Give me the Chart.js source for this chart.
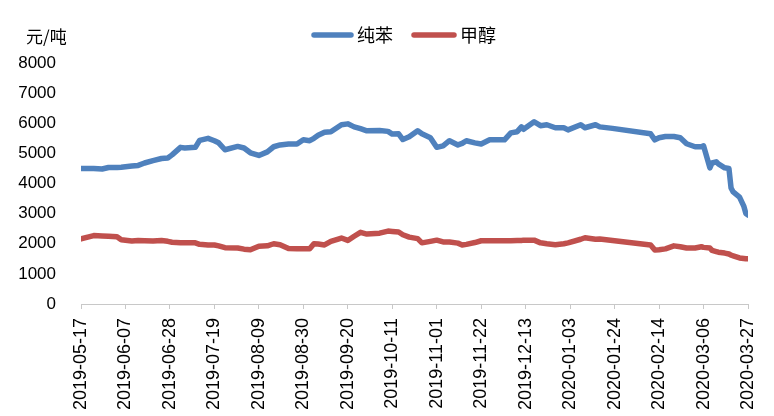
<!DOCTYPE html>
<html>
<head>
<meta charset="utf-8">
<script src="https://cdn.jsdelivr.net/npm/chart.js@4/dist/chart.umd.min.js"></script>
<style>
  html, body { margin: 0; padding: 0; background: #fff; }
  #wrap { width: 774px; height: 416px; position: relative; }
</style>
</head>
<body>
<div id="wrap"><canvas id="priceChart"></canvas></div>
<script>
// chart data
const startDate = '2019-05-17';
const dates = [
    '2019-05-17', '2019-05-23', '2019-05-27', '2019-05-30', '2019-06-03', '2019-06-05',
    '2019-06-10', '2019-06-13', '2019-06-16', '2019-06-20', '2019-06-24', '2019-06-27',
    '2019-06-29', '2019-07-03', '2019-07-05', '2019-07-10', '2019-07-12', '2019-07-16',
    '2019-07-19', '2019-07-21', '2019-07-24', '2019-07-30', '2019-08-02', '2019-08-05',
    '2019-08-09', '2019-08-13', '2019-08-16', '2019-08-19', '2019-08-23', '2019-08-27',
    '2019-08-30', '2019-09-02', '2019-09-04', '2019-09-06', '2019-09-09', '2019-09-12',
    '2019-09-17', '2019-09-20', '2019-09-23', '2019-09-26', '2019-09-29', '2019-10-05',
    '2019-10-09', '2019-10-11', '2019-10-14', '2019-10-16', '2019-10-19', '2019-10-23',
    '2019-10-25', '2019-10-29', '2019-11-01', '2019-11-04', '2019-11-07', '2019-11-11',
    '2019-11-13', '2019-11-15', '2019-11-19', '2019-11-22', '2019-11-26', '2019-12-03',
    '2019-12-06', '2019-12-09', '2019-12-11', '2019-12-12', '2019-12-17', '2019-12-20',
    '2019-12-23', '2019-12-27', '2019-12-31', '2020-01-02', '2020-01-08', '2020-01-10',
    '2020-01-15', '2020-01-17', '2020-01-23', '2020-02-10', '2020-02-12', '2020-02-14',
    '2020-02-17', '2020-02-21', '2020-02-24', '2020-02-27', '2020-03-02', '2020-03-05',
    '2020-03-06', '2020-03-09', '2020-03-10', '2020-03-12', '2020-03-13', '2020-03-16',
    '2020-03-18', '2020-03-19', '2020-03-20', '2020-03-23', '2020-03-25', '2020-03-26',
    '2020-03-27'
];
const benzene = [
    4500, 4500, 4480, 4530, 4530, 4540,
    4580, 4600, 4680, 4760, 4830, 4850,
    4950, 5200, 5180, 5200, 5430, 5500,
    5420, 5350, 5120, 5230, 5180, 5020,
    4930, 5050, 5220, 5280, 5310, 5310,
    5450, 5420, 5500, 5600, 5700, 5720,
    5950, 5980, 5880, 5820, 5750, 5760,
    5730, 5640, 5650, 5460, 5550, 5750,
    5650, 5520, 5200, 5250, 5420, 5280,
    5330, 5420, 5350, 5310, 5450, 5450,
    5680, 5720, 5880, 5800, 6050, 5920,
    5950, 5850, 5850, 5780, 5950, 5850,
    5950, 5880, 5830, 5650, 5450, 5520,
    5560, 5560, 5520, 5320, 5220, 5220,
    5250, 4520, 4680, 4720, 4650, 4520,
    4500, 3850, 3720, 3550, 3250, 3000,
    2950
];
const methanol = [
    2160, 2270, 2260, 2250, 2230, 2130,
    2090, 2110, 2100, 2090, 2110, 2080,
    2050, 2030, 2030, 2030, 1980, 1960,
    1960, 1930, 1870, 1860, 1820, 1800,
    1920, 1930, 2000, 1970, 1840, 1830,
    1830, 1830, 2000, 1990, 1960, 2080,
    2190, 2110, 2250, 2380, 2320, 2350,
    2420, 2410, 2390, 2300, 2220, 2170,
    2030, 2080, 2120, 2060, 2060, 2020,
    1960, 1980, 2040, 2100, 2100, 2100,
    2100, 2110, 2110, 2120, 2120, 2030,
    2000, 1970, 2000, 2030, 2150, 2200,
    2150, 2160, 2110, 1960, 1790, 1800,
    1830, 1930, 1900, 1860, 1860, 1900,
    1880, 1860, 1780, 1740, 1720, 1690,
    1660, 1620, 1600, 1530, 1510, 1500,
    1500
];
const tickLabels = [
    '2019-05-17', '2019-06-07', '2019-06-28', '2019-07-19', '2019-08-09', '2019-08-30',
    '2019-09-20', '2019-10-11', '2019-11-01', '2019-11-22', '2019-12-13', '2020-01-03',
    '2020-01-24', '2020-02-14', '2020-03-06', '2020-03-27'
];
const seriesNames = ['纯苯', '甲醇'];
const unitLabel = '元/吨';

const DAY = 86400000;
function dayOffset(d) {
    return (Date.parse(d) - Date.parse(startDate)) / DAY;
}
function toPoints(values) {
    return values.map((v, i) => ({ x: dayOffset(dates[i]), y: v }));
}

// unit label and legend drawn on top of the canvas
const headerPlugin = {
    id: 'header',
    afterDraw(chart) {
        const ctx = chart.ctx;
        ctx.save();
        ctx.fillStyle = '#000';
        ctx.font = '17px "Noto Sans CJK SC"';
        ctx.textBaseline = 'middle';
        ctx.textAlign = 'left';
        ctx.fillText(unitLabel, 26, 37);

        ctx.font = '18px "Noto Sans CJK SC"';
        const items = [{ x: 312, w: 41 }, { x: 412, w: 44 }];
        chart.data.datasets.forEach((ds, i) => {
            const it = items[i];
            ctx.strokeStyle = ds.borderColor;
            ctx.lineWidth = 5.5;
            ctx.lineCap = 'round';
            ctx.beginPath();
            ctx.moveTo(it.x + 2, 35);
            ctx.lineTo(it.x + it.w - 2, 35);
            ctx.stroke();
            ctx.fillStyle = '#000';
            ctx.fillText(ds.label, it.x + it.w + 4, 35);
        });
        ctx.restore();
    }
};

document.addEventListener('DOMContentLoaded', function() {
    const ctx = document.getElementById('priceChart').getContext('2d');
    const priceChart = new Chart(ctx, {
        type: 'line',
        data: {
            datasets: [{
                label: seriesNames[0],
                data: toPoints(benzene),
                borderColor: '#4F81BD',
                backgroundColor: '#4F81BD',
                borderWidth: 5.5,
                borderCapStyle: 'round',
                borderJoinStyle: 'round',
                pointRadius: 0,
                tension: 0
            }, {
                label: seriesNames[1],
                data: toPoints(methanol),
                borderColor: '#C0504D',
                backgroundColor: '#C0504D',
                borderWidth: 5.5,
                borderCapStyle: 'round',
                borderJoinStyle: 'round',
                pointRadius: 0,
                tension: 0
            }]
        },
        options: {
            responsive: true,
            maintainAspectRatio: false,
            animation: false,
            layout: {
                padding: { top: 63, right: 26, bottom: 0, left: 0 }
            },
            plugins: {
                legend: { display: false },
                tooltip: { enabled: false }
            },
            scales: {
                x: {
                    type: 'linear',
                    min: 0,
                    max: dayOffset(tickLabels[tickLabels.length - 1]),
                    grid: {
                        display: true,
                        drawOnChartArea: false,
                        drawTicks: true,
                        tickLength: 5,
                        color: '#c8c8c8'
                    },
                    border: { display: true, color: '#c8c8c8', width: 1 },
                    afterBuildTicks: function(scale) {
                        scale.ticks = tickLabels.map(t => ({ value: dayOffset(t) }));
                    },
                    afterFit: function(scale) {
                        scale.height = 112;
                        scale.paddingLeft = 0;
                        scale.paddingRight = 0;
                    },
                    ticks: {
                        autoSkip: false,
                        maxRotation: 90,
                        minRotation: 90,
                        padding: 9,
                        color: '#000',
                        font: { family: '"Liberation Sans", Arial, sans-serif', size: 18 },
                        callback: function(value) {
                            const i = tickLabels.findIndex(t => dayOffset(t) === value);
                            return i >= 0 ? tickLabels[i] : '';
                        }
                    }
                },
                y: {
                    min: 0,
                    max: 8000,
                    grid: { display: false },
                    border: { display: false },
                    afterFit: function(scale) {
                        scale.width = 81;
                    },
                    ticks: {
                        stepSize: 1000,
                        padding: 17,
                        color: '#000',
                        font: { family: '"Liberation Sans", Arial, sans-serif', size: 17 },
                        callback: function(value) {
                            return String(value);
                        }
                    }
                }
            }
        },
        plugins: [headerPlugin]
    });
});
</script>
</body>
</html>
